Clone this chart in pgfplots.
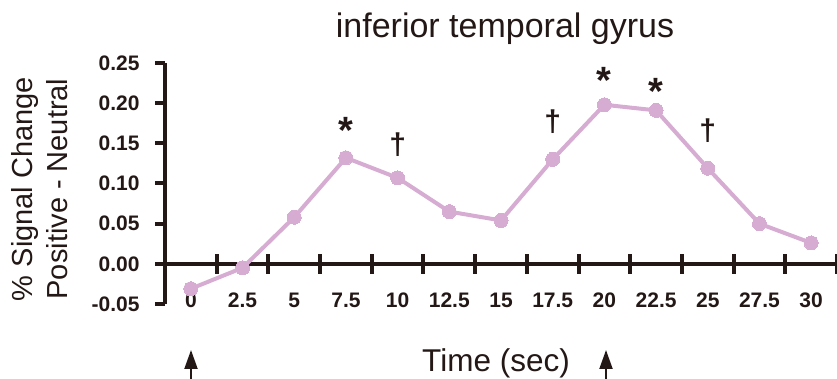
\documentclass[border=0pt]{standalone}
\usepackage{pgfplots}
\pgfplotsset{compat=1.18}
\usepackage{fontspec}
\setmainfont{Liberation Sans}
\usetikzlibrary{arrows.meta}
\definecolor{ink}{RGB}{35,24,21}
\definecolor{lilac}{RGB}{214,172,210}

\pgfplotstableread{
t    v
0    -0.031
2.5  -0.005
5     0.058
7.5   0.132
10    0.107
12.5  0.065
15    0.054
17.5  0.130
20    0.198
22.5  0.191
25    0.119
27.5  0.050
30    0.026
}\itgdata

\begin{document}
\begin{tikzpicture}
\useasboundingbox (0pt,0pt) rectangle (837pt,379pt);
% zero line with centred ticks
\begin{axis}[
  at={(165pt,75pt)}, anchor=south west,
  width=672pt, height=241pt, scale only axis,
  xmin=-1.25, xmax=31.25, ymin=-0.05, ymax=0.25,
  axis x line*=middle, axis y line=none,
  xtick={1.25,3.75,6.25,8.75,11.25,13.75,16.25,18.75,21.25,23.75,26.25,28.75,31.25},
  xticklabels={},
  major tick length=20pt, tick align=center,
  x tick style={ink, line width=4pt},
  x axis line style={ink, line width=4pt},
]
\end{axis}
% main axis
\begin{axis}[
  at={(165pt,75pt)}, anchor=south west,
  width=672pt, height=241pt, scale only axis,
  xmin=-1.25, xmax=31.25, ymin=-0.05, ymax=0.25,
  clip=false,
  axis x line*=bottom, axis y line*=left,
  x axis line style={draw=none},
  xtick={0,2.5,5,7.5,10,12.5,15,17.5,20,22.5,25,27.5,30},
  xticklabels={0,2.5,5,7.5,10,12.5,15,17.5,20,22.5,25,27.5,30},
  x tick style={draw=none},
  ytick={-0.05,0,0.05,0.1,0.15,0.2,0.25},
  yticklabels={-0.05,0.00,0.05,0.10,0.15,0.20,0.25},
  y tick style={ink, line width=4pt},
  major tick length=10pt, tick align=outside,
  y axis line style={ink, line width=4pt},
  ticklabel style={font=\bfseries\fontsize{21}{21}\selectfont, text=ink},
  xticklabel style={anchor=base, yshift=6pt},
  yticklabel style={anchor=east, xshift=-12pt},
]
\addplot[lilac, line width=4pt, mark=*, mark size=7pt, mark options={fill=lilac, draw=lilac, line width=0pt}] table[x=t, y=v] {\itgdata};
\node[font=\bfseries\fontsize{38}{38}\selectfont, text=ink, anchor=base, yshift=-22pt] at (axis cs:7.5,0.177) {*};
\node[font=\bfseries\fontsize{38}{38}\selectfont, text=ink, anchor=base, yshift=-22pt] at (axis cs:20,0.239) {*};
\node[font=\bfseries\fontsize{38}{38}\selectfont, text=ink, anchor=base, yshift=-22pt] at (axis cs:22.5,0.226) {*};
\node[font=\bfseries\fontsize{30}{30}\selectfont, text=ink, anchor=base, yshift=-8pt] at (axis cs:10,0.1455) {†};
\node[font=\bfseries\fontsize{30}{30}\selectfont, text=ink, anchor=base, yshift=-8pt] at (axis cs:17.5,0.175) {†};
\node[font=\bfseries\fontsize{30}{30}\selectfont, text=ink, anchor=base, yshift=-8pt] at (axis cs:25,0.163) {†};
\end{axis}
\node[font=\fontsize{34}{34}\selectfont, text=ink, anchor=base] at (505pt,341pt) {inferior temporal gyrus};
\node[font=\fontsize{31.5}{31.5}\selectfont, text=ink, anchor=base] at (496pt,7pt) {Time (sec)};
\node[font=\fontsize{29}{35}\selectfont, text=ink, rotate=90, align=center] at (40pt,190pt) {\% Signal Change\\Positive - Neutral};
\draw[ink, line width=2pt, -{Triangle[length=19pt, width=13pt]}] (191pt,0pt) -- (191pt,29pt);
\draw[ink, line width=2pt, -{Triangle[length=19pt, width=13pt]}] (606pt,0pt) -- (606pt,29pt);
\end{tikzpicture}
\end{document}
